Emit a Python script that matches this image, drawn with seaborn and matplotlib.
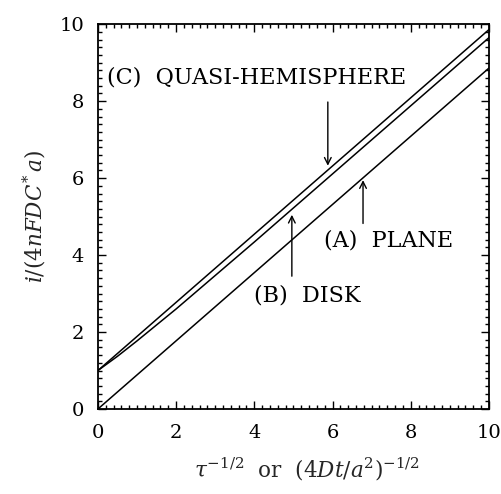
import matplotlib
matplotlib.use("Agg")
import matplotlib.pyplot as plt
from matplotlib.ticker import MultipleLocator
import seaborn as sns
import pandas as pd

# values
plane_x = [0.0, 10.0]
plane_y = [0.0, 8.86]
disk_x = [0.0, 0.5, 1.0, 2.0, 4.0, 6.0, 8.0, 10.0]
disk_y = [1.0, 1.37, 1.77, 2.60, 4.34, 6.11, 7.88, 9.65]
hemi_x = [0.0, 10.0]
hemi_y = [1.0, 9.86]

curves = pd.concat([
    pd.DataFrame({"x": plane_x, "y": plane_y, "curve": "(A) PLANE"}),
    pd.DataFrame({"x": disk_x, "y": disk_y, "curve": "(B) DISK"}),
    pd.DataFrame({"x": hemi_x, "y": hemi_y, "curve": "(C) QUASI-HEMISPHERE"}),
])

sns.set_style("ticks")
plt.rcParams["font.family"] = ["DejaVu Serif"]
plt.rcParams["mathtext.fontset"] = "dejavuserif"

fig = plt.figure(figsize=(5.02, 4.94), dpi=100)
ax = fig.add_axes([0.195, 0.172, 0.779, 0.779])

sns.lineplot(data=curves, x="x", y="y", units="curve", estimator=None,
             color="black", linewidth=1.1, legend=False, ax=ax, sort=False)

ax.set_xlim(0, 10)
ax.set_ylim(0, 10)
ax.xaxis.set_major_locator(MultipleLocator(2))
ax.yaxis.set_major_locator(MultipleLocator(2))
ax.xaxis.set_minor_locator(MultipleLocator(0.2))
ax.yaxis.set_minor_locator(MultipleLocator(0.2))
ax.tick_params(which="both", direction="in", top=True, right=True,
               colors="black", labelsize=14, width=1.0)
ax.tick_params(which="major", length=6)
ax.tick_params(axis="x", which="major", pad=11)
ax.tick_params(axis="y", which="major", pad=10)
ax.tick_params(which="minor", length=3)
for s in ax.spines.values():
    s.set_linewidth(1.3)
    s.set_color("black")

ax.set_xlabel(r"$\tau^{-1/2}$  or  $(4Dt/a^{2})^{-1/2}$", fontsize=15.5, labelpad=10)
ax.xaxis.set_label_coords(0.535, -0.12)
ax.set_ylabel(r"$i/(4nFDC^{*}\,a)$", fontsize=15.5, labelpad=8)

txt = dict(fontsize=16, va="center", ha="left", color="black")
ax.text(0.23, 8.62, "(C)  QUASI-HEMISPHERE", **txt)
ax.text(5.78, 4.39, "(A)  PLANE", **txt)
ax.text(3.99, 2.96, "(B)  DISK", **txt)

arr = dict(arrowstyle="->", color="black", lw=1.0, mutation_scale=12)
ax.annotate("", xy=(5.88, 6.25), xytext=(5.88, 8.05), arrowprops=arr)
ax.annotate("", xy=(6.78, 6.02), xytext=(6.78, 4.75), arrowprops=arr)
ax.annotate("", xy=(4.96, 5.12), xytext=(4.96, 3.38), arrowprops=arr)

fig.savefig("out.png", dpi=100)
